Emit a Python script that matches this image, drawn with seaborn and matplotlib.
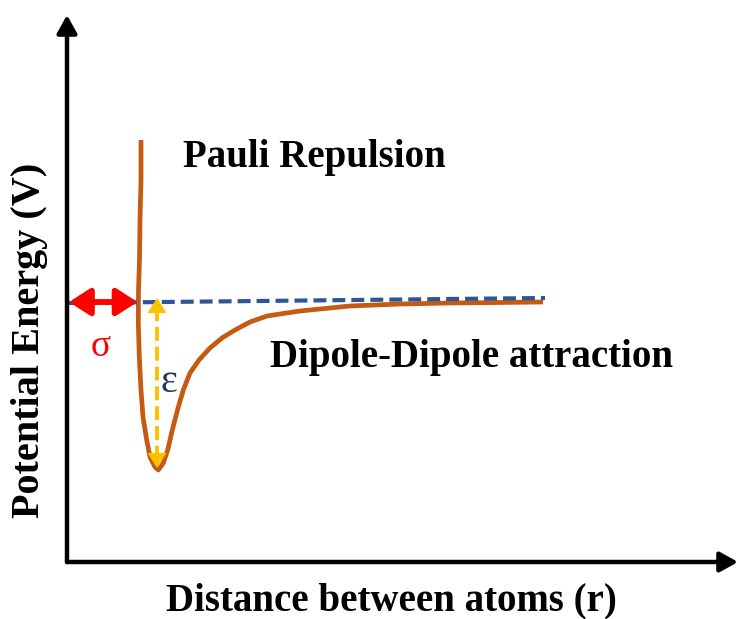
import matplotlib
matplotlib.use("Agg")
import matplotlib.pyplot as plt
import seaborn as sns
import pandas as pd

# Potential energy curve (r in arbitrary distance units, V relative to the asymptote)
r_curve = [0.74, 0.74, 0.73, 0.725, 0.715, 0.713, 0.723, 0.74, 0.76, 0.797, 0.83, 0.88,
           0.913, 0.963, 1.007, 1.053, 1.113, 1.163, 1.23, 1.32, 1.43, 1.55, 1.68, 1.83,
           2.00, 2.33, 2.83, 3.33, 3.83, 4.33, 4.76]
v_curve = [1.62, 1.22, 0.82, 0.42, 0.12, -0.21, -0.55, -0.88, -1.15, -1.38, -1.55, -1.65,
           -1.68, -1.61, -1.48, -1.28, -1.05, -0.88, -0.71, -0.58, -0.46, -0.36, -0.28, -0.20,
           -0.14, -0.09, -0.04, -0.02, -0.01, -0.005, 0.0]

# Zero-energy reference line
r_ref = [0.0, 4.78]
v_ref = [-0.01, 0.04]

# Lennard-Jones parameters marked on the curve
sigma = 0.715
epsilon = 1.68
r_min = 0.90

# Axis extent
r_max = 6.71
v_lo, v_hi = -2.60, 2.87

sns.set_theme(style="white")
plt.rcParams["font.family"] = ["Liberation Serif", "DejaVu Serif"]

fig = plt.figure(figsize=(7.38, 6.19), dpi=100)
ax = fig.add_axes([67 / 738, 57 / 619, 671 / 738, 547 / 619])
ax.set_xlim(0, r_max)
ax.set_ylim(v_lo, v_hi)
for s in ax.spines.values():
    s.set_visible(False)
ax.set_xticks([])
ax.set_yticks([])

curve = pd.DataFrame({"r": r_curve, "V": v_curve})
ref = pd.DataFrame({"r": r_ref, "V": v_ref})

sns.lineplot(data=ref, x="r", y="V", ax=ax, color="#2F5597", lw=3,
             linestyle=(0, (3.1, 1.45)), zorder=3)
sns.lineplot(data=curve, x="r", y="V", ax=ax, color="#C55A11", lw=3.4,
             sort=False, estimator=None, zorder=2,
             solid_joinstyle="round", solid_capstyle="butt")
ax.set_xlabel("")
ax.set_ylabel("")

# Axes drawn as arrows
arrow_kw = dict(arrowstyle="-|>,head_length=0.45,head_width=0.25", lw=3.2, color="black",
                shrinkA=0, shrinkB=0, mutation_scale=24)
ax.annotate("", xy=(0, v_hi), xytext=(0, v_lo), arrowprops=arrow_kw, annotation_clip=False)
ax.annotate("", xy=(r_max, v_lo), xytext=(0, v_lo), arrowprops=arrow_kw, annotation_clip=False)

# sigma: double-headed red arrow from the origin to the zero crossing
ax.annotate("", xy=(sigma - 0.01, 0), xytext=(0.02, 0),
            arrowprops=dict(arrowstyle="<|-|>,head_length=0.7,head_width=0.45", lw=4.2,
                            color="#FF0000", shrinkA=0, shrinkB=0, mutation_scale=18),
            zorder=5)
ax.text(0.34, -0.45, "σ", color="#FF0000", fontsize=27, ha="center", va="center")

# epsilon: dashed yellow double arrow spanning the well depth
ax.plot([r_min, r_min], [-0.05, -epsilon + 0.1], color="#FFC000", lw=2.8,
        linestyle=(0, (3.6, 1.5)), zorder=4)
head_kw = dict(arrowstyle="-|>,head_length=0.6,head_width=0.38", lw=0, color="#FFC000",
               shrinkA=0, shrinkB=0, mutation_scale=18)
ax.annotate("", xy=(r_min, 0.04), xytext=(r_min, -0.3), arrowprops=head_kw, zorder=5)
ax.annotate("", xy=(r_min, -epsilon + 0.02), xytext=(r_min, -epsilon + 0.4),
            arrowprops=head_kw, zorder=5)
ax.text(1.02, -0.80, "ε", color="#1F3864", fontsize=29, ha="center", va="center")

# Region annotations
ax.text(1.16, 1.45, "Pauli Repulsion", fontsize=28, fontweight="bold",
        ha="left", va="center", color="black")
ax.text(2.03, -0.55, "Dipole-Dipole attraction", fontsize=28, fontweight="bold",
        ha="left", va="center", color="black")

# Axis titles
ax.text((391 - 67) / 671, (562 - 601) / 547, "Distance between atoms (r)",
        transform=ax.transAxes, fontsize=28, fontweight="bold",
        ha="center", va="center", color="black")
ax.text((30 - 67) / 671, (562 - 340) / 547, "Potential Energy (V)",
        transform=ax.transAxes, fontsize=29, fontweight="bold", rotation=90,
        ha="center", va="center", color="black")

fig.savefig("out.png", dpi=100)
